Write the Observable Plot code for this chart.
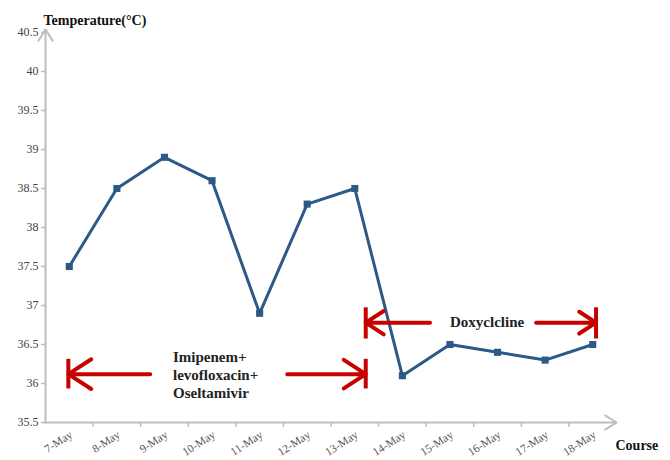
<!DOCTYPE html>
<html>
<head>
<meta charset="utf-8">
<script src="https://cdn.jsdelivr.net/npm/d3@7"></script>
<script src="https://cdn.jsdelivr.net/npm/@observablehq/plot@0.6"></script>
<style>
  html, body { margin: 0; padding: 0; background: #fff; }
  svg { display: block; }
</style>
</head>
<body>
<div id="chart"></div>
<script>
// ---- data ----
const dates = ["7-May", "8-May", "9-May", "10-May", "11-May", "12-May", "13-May", "14-May", "15-May", "16-May", "17-May", "18-May"];
const temps = [37.5, 38.5, 38.9, 38.6, 36.9, 38.3, 38.5, 36.1, 36.5, 36.4, 36.3, 36.5];
const yTicks = [35.5, 36, 36.5, 37, 37.5, 38, 38.5, 39, 39.5, 40, 40.5];
const xBoundaries = [0.5, 1.5, 2.5, 3.5, 4.5, 5.5, 6.5, 7.5, 8.5, 9.5, 10.5];

// ---- treatment annotations (in data units: day index / °C) ----
const treatArrows = [
  {x1: 1.70, x2: -0.02, y: 36.12},
  {x1: 4.58, x2: 6.23, y: 36.12},
  {x1: 7.58, x2: 6.23, y: 36.78},
  {x1: 9.81, x2: 11.07, y: 36.78}
];
const treatBars = [
  {x: -0.02, y1: 35.93, y2: 36.31},
  {x: 6.23, y1: 35.93, y2: 36.31},
  {x: 6.23, y1: 36.57, y2: 36.97},
  {x: 11.07, y1: 36.57, y2: 36.97}
];
const firstTreatment = [{x: 2.18, y: 36.12, text: "Imipenem+\nlevofloxacin+\nOseltamivir"}];
const secondTreatment = [{x: 8.78, y: 36.78, text: "Doxyclcline"}];

const points = temps.map((t, i) => ({i, t, date: dates[i]}));
const gray = "#bdbdbd";
const lineColor = "#2c5985";
const red = "#c80000";
const serif = "'Liberation Serif', 'Times New Roman', serif";

const chart = Plot.plot({
  width: 670,
  height: 460,
  marginLeft: 45,
  marginRight: 54,
  marginTop: 32,
  marginBottom: 38,
  style: {fontFamily: serif, background: "#fff"},
  x: {domain: [-0.5, 11.5], axis: null},
  y: {domain: [35.5, 40.5], axis: null},
  marks: [
    // y axis ticks + labels
    Plot.axisY({ticks: yTicks, tickSize: 4, tickPadding: 3, stroke: gray, strokeWidth: 1.5,
      tickFormat: d => String(d), fontSize: 12, fill: "#444"}),
    // x axis ticks at category boundaries
    Plot.ruleX(xBoundaries, {x: d => d, y1: () => 35.5, y2: () => 35.5, insetBottom: -5, stroke: gray, strokeWidth: 1.5}),
    // x tick labels
    Plot.text(points, {x: "i", frameAnchor: "bottom", text: "date", rotate: -33, textAnchor: "end",
      dx: 4, dy: 14, fontSize: 11.5, fill: "#555"}),
    // axis lines with arrows
    Plot.arrow([{x1: -0.5, y1: 35.5, x2: 11.5, y2: 35.5}], {x1: "x1", y1: "y1", x2: "x2", y2: "y2",
      stroke: gray, strokeWidth: 2, headLength: 10, headAngle: 64}),
    Plot.arrow([{x1: -0.5, y1: 35.5, x2: -0.5, y2: 40.54}], {x1: "x1", y1: "y1", x2: "x2", y2: "y2",
      stroke: gray, strokeWidth: 2, headLength: 10, headAngle: 64}),
    // axis titles
    Plot.text(["Temperature(°C)"], {frameAnchor: "top-left", dx: -2, dy: -17, textAnchor: "start",
      fontSize: 14, fontWeight: "bold", fill: "#111"}),
    Plot.text(["Course"], {frameAnchor: "bottom-right", dx: -1, dy: 27, textAnchor: "start",
      fontSize: 14, fontWeight: "bold", fill: "#111"}),
    // data
    Plot.line(points, {x: "i", y: "t", stroke: lineColor, strokeWidth: 3}),
    Plot.dot(points, {x: "i", y: "t", symbol: "square", r: 4, fill: lineColor, stroke: "none"}),
    // treatment annotations
    Plot.arrow(treatArrows, {x1: "x1", x2: "x2", y1: "y", y2: "y", stroke: red, strokeWidth: 4,
      headLength: 14, headAngle: 66}),
    Plot.ruleX(treatBars, {x: "x", y1: "y1", y2: "y2", stroke: red, strokeWidth: 4}),
    Plot.text(firstTreatment, {x: "x", y: "y", text: "text", textAnchor: "start",
      fontSize: 15, fontWeight: "bold", lineHeight: 1.2, fill: "#222"}),
    Plot.text(secondTreatment, {x: "x", y: "y", text: "text", textAnchor: "middle",
      fontSize: 15, fontWeight: "bold", fill: "#222"})
  ]
});
document.getElementById("chart").appendChild(chart);
</script>
</body>
</html>
